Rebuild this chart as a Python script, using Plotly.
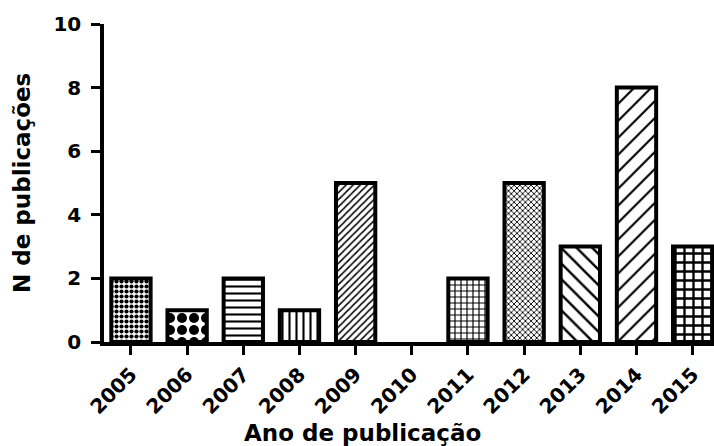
import plotly.graph_objects as go

years = ["2005", "2006", "2007", "2008", "2009", "2010", "2011", "2012", "2013", "2014", "2015"]
counts = [2, 1, 2, 1, 5, 0, 2, 5, 3, 8, 3]
y_ticks = [0, 2, 4, 6, 8, 10]
x_title = "Ano de publicação"
y_title = "N de publicações"

pattern_shapes = [".", ".", "-", "|", "/", "", "+", "x", "\\", "/", "+"]
pattern_sizes = [5, 12, 7, 7, 5, 8, 6, 4, 11, 12, 9]
pattern_solidity = [0.55, 0.55, 0.3, 0.3, 0.3, 0.3, 0.35, 0.4, 0.22, 0.18, 0.45]
outline_widths = [0 if v == 0 else 4 for v in counts]

FONT = "DejaVu Sans"

fig = go.Figure(
    go.Bar(
        x=years,
        y=counts,
        width=0.7,
        marker=dict(
            color="white",
            line=dict(color="black", width=outline_widths),
            pattern=dict(
                shape=pattern_shapes,
                size=pattern_sizes,
                solidity=pattern_solidity,
                fgcolor="black",
                fgopacity=1,
                bgcolor="white",
                fillmode="replace",
            ),
        ),
    )
)

fig.update_layout(
    width=714,
    height=446,
    margin=dict(l=104, r=0, t=24, b=104, pad=0),
    paper_bgcolor="white",
    plot_bgcolor="white",
    showlegend=False,
    font=dict(family=FONT, color="black"),
    xaxis=dict(
        type="category",
        range=[-0.48, 10.38],
        showgrid=False,
        zeroline=False,
        showline=True,
        linecolor="black",
        linewidth=3.5,
        ticks="outside",
        ticklen=9,
        tickwidth=3,
        tickcolor="black",
        tickangle=-45,
        tickfont=dict(family=FONT, size=20, color="black", weight="bold"),
    ),
    yaxis=dict(
        range=[0, 10],
        tickvals=y_ticks,
        showgrid=False,
        zeroline=False,
        showline=True,
        linecolor="black",
        linewidth=3.5,
        ticks="outside",
        ticklen=9,
        tickwidth=3,
        tickcolor="black",
        ticklabelstandoff=6,
        tickfont=dict(family=FONT, size=20, color="black", weight="bold"),
    ),
    annotations=[
        dict(
            text=x_title, xref="paper", yref="paper",
            x=(362 - 104) / 610, y=(342 - 433) / 318,
            xanchor="center", yanchor="middle", showarrow=False,
            font=dict(family=FONT, size=23, color="black", weight="bold"),
        ),
        dict(
            text=y_title, xref="paper", yref="paper",
            x=(22 - 104) / 610, y=0.5, textangle=-90,
            xanchor="center", yanchor="middle", showarrow=False,
            font=dict(family=FONT, size=23, color="black", weight="bold"),
        ),
    ],
)

fig.write_html("out.html")
